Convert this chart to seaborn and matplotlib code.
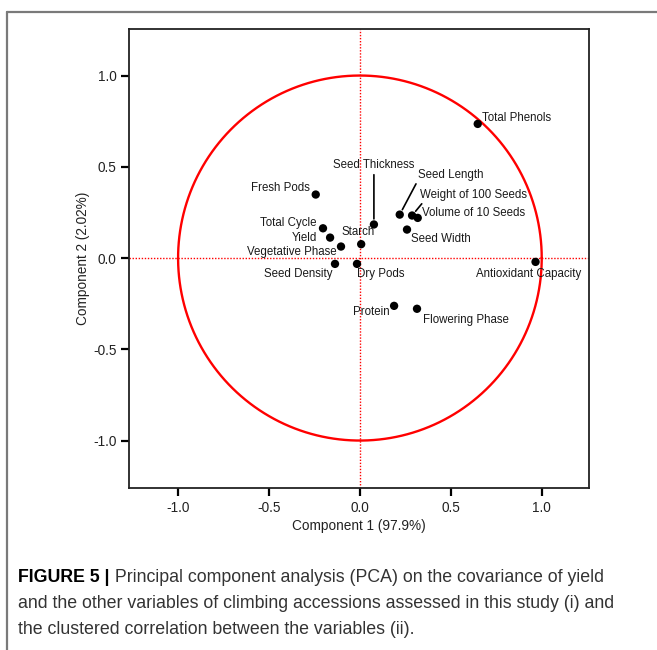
import matplotlib
matplotlib.use("Agg")
import matplotlib.pyplot as plt
import seaborn as sns
import pandas as pd
import numpy as np
from matplotlib.lines import Line2D

variables = ["Total Phenols", "Fresh Pods", "Seed Thickness", "Seed Length",
             "Weight of 100 Seeds", "Volume of 10 Seeds", "Seed Width",
             "Total Cycle", "Yield", "Starch", "Vegetative Phase",
             "Seed Density", "Dry Pods", "Antioxidant Capacity", "Protein",
             "Flowering Phase"]
comp1 = [0.648, -0.243, 0.077, 0.219, 0.287, 0.318, 0.259, -0.203, -0.164,
         0.007, -0.104, -0.137, -0.016, 0.966, 0.188, 0.314]
comp2 = [0.735, 0.348, 0.184, 0.238, 0.233, 0.220, 0.156, 0.163, 0.112,
         0.076, 0.063, -0.032, -0.032, -0.021, -0.262, -0.278]
x_ticks = [-1.0, -0.5, 0.0, 0.5, 1.0]
y_ticks = [-1.0, -0.5, 0.0, 0.5, 1.0]

df = pd.DataFrame({"var": variables, "c1": comp1, "c2": comp2})

sns.set_style("white")
plt.rcParams["font.family"] = ["Liberation Sans", "DejaVu Sans"]

fig = plt.figure(figsize=(6.57, 6.50), dpi=100)
ax = fig.add_axes([129/657, 1-488/650, 460/657, 459/650])

# circle
t = np.linspace(0, 2*np.pi, 400)
ax.plot(np.cos(t), np.sin(t), color="#ff0000", lw=1.7, zorder=1)
ax.axhline(0, color="#ff0000", lw=1.0, ls=(0, (1, 1.2)), zorder=1)
ax.axvline(0, color="#ff0000", lw=1.0, ls=(0, (1, 1.2)), zorder=1)

sns.scatterplot(data=df, x="c1", y="c2", color="black", s=36, edgecolor="none",
                ax=ax, zorder=3, legend=False)

# label offsets in pixels: (dx, dy, ha, line relpos)
offsets = {
    "Total Phenols": (4, 6, "left", None),
    "Fresh Pods": (-6, 7, "right", None),
    "Seed Thickness": (0, 59, "center", (0.5, 0.0)),
    "Seed Length": (18, 40, "left", (0.0, 0.0)),
    "Weight of 100 Seeds": (8, 21, "left", (0.05, 0.1)),
    "Volume of 10 Seeds": (4, 5, "left", None),
    "Seed Width": (4, -9, "left", None),
    "Total Cycle": (-7, 5, "right", None),
    "Yield": (-13, 0, "right", None),
    "Starch": (-3, 12, "center", None),
    "Vegetative Phase": (-4, -5, "right", None),
    "Seed Density": (-3, -10, "right", None),
    "Dry Pods": (0, -10, "left", None),
    "Antioxidant Capacity": (-60, -12, "left", None),
    "Protein": (-4, -6, "right", None),
    "Flowering Phase": (6, -11, "left", None),
}
for name, x, y in zip(variables, comp1, comp2):
    dx, dy, ha, relpos = offsets[name]
    kw = {}
    if relpos is not None:
        kw["arrowprops"] = dict(arrowstyle="-", color="black", lw=1.2,
                                shrinkA=0, shrinkB=4, relpos=relpos)
    ax.annotate(name, xy=(x, y), xytext=(dx, dy), textcoords="offset pixels",
                ha=ha, va="center", fontsize=8.3, color="#1a1a1a", zorder=4, **kw)

ax.set_xlim(-1.27, 1.26)
ax.set_ylim(-1.26, 1.255)
ax.set_xticks(x_ticks)
ax.set_yticks(y_ticks)
ax.set_xticklabels([f"{v:.1f}" for v in x_ticks])
ax.set_yticklabels([f"{v:.1f}" for v in y_ticks])
ax.tick_params(axis="both", direction="out", length=6, width=1.6,
               labelsize=9.8, colors="black", labelcolor="#222222", pad=3,
               bottom=True, left=True)
for s in ax.spines.values():
    s.set_color("#222222")
    s.set_linewidth(1.3)
ax.set_xlabel("Component 1 (97.9%)", fontsize=9.8, color="#222222", labelpad=3)
ax.set_ylabel("Component 2 (2.02%)", fontsize=9.8, color="#222222", labelpad=2)

# outer frame
fig.add_artist(Line2D([7/657, 7/657], [0, 1-12/650], transform=fig.transFigure,
                      color="#7a7a7a", lw=1.6))
fig.add_artist(Line2D([7/657, 1], [1-12/650, 1-12/650], transform=fig.transFigure,
                      color="#7a7a7a", lw=1.6))

# caption
cap_fam = ["Liberation Sans", "DejaVu Sans"]
cs = 12.8
t1 = fig.text(18/657, 1-578/650, "FIGURE 5 |", fontsize=cs, fontweight="bold",
              family=cap_fam, va="center", color="black")
ax.annotate(" Principal component analysis (PCA) on the covariance of yield",
            xy=(1, 0), xycoords=t1, va="bottom", ha="left", fontsize=cs,
            family=cap_fam, color="#333333", annotation_clip=False)
fig.text(18/657, 1-604/650,
         "and the other variables of climbing accessions assessed in this study (i) and",
         fontsize=cs, family=cap_fam, va="center", color="#333333")
fig.text(18/657, 1-630/650,
         "the clustered correlation between the variables (ii).",
         fontsize=cs, family=cap_fam, va="center", color="#333333")

fig.savefig("out.png", dpi=100)
